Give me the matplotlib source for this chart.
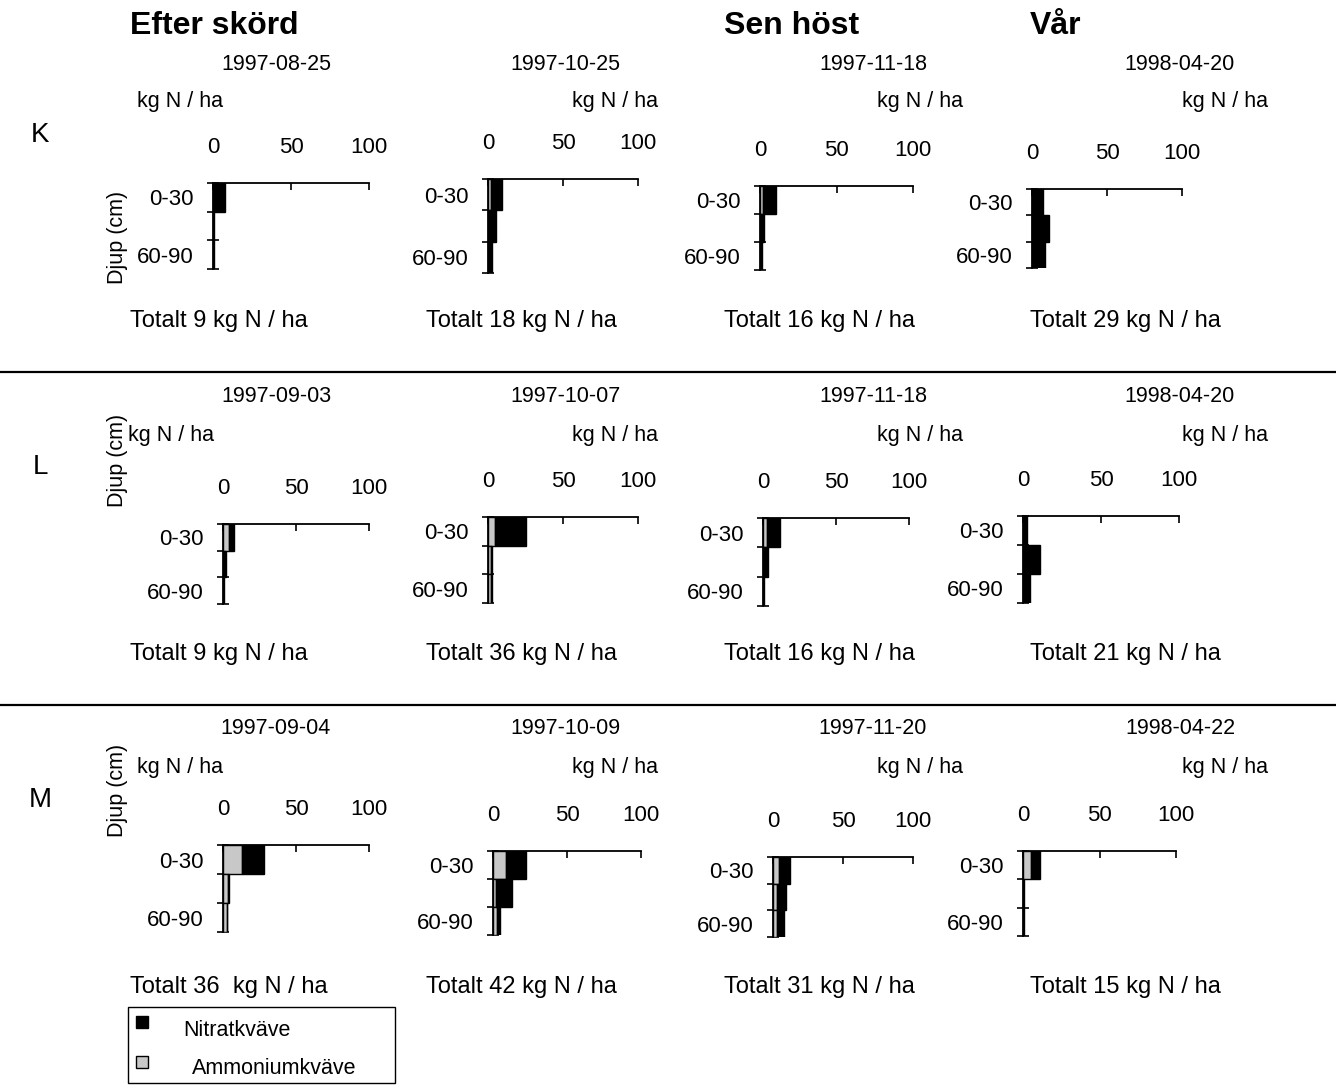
import matplotlib
matplotlib.use("Agg")
import matplotlib.pyplot as plt
from matplotlib.patches import Rectangle
from matplotlib.lines import Line2D

plt.rcParams['font.family'] = ['Liberation Sans', 'DejaVu Sans']

W, H = 1336, 1088

# ---------------- data ----------------
row_names = ["K", "L", "M"]
season_titles = ["Efter skörd", "Sen höst", "Vår"]
depth_labels = ["0-30", "60-90"]
layer_centers = [15, 45, 75]

dates_K = ["1997-08-25", "1997-10-25", "1997-11-18", "1998-04-20"]
dates_L = ["1997-09-03", "1997-10-07", "1997-11-18", "1998-04-20"]
dates_M = ["1997-09-04", "1997-10-09", "1997-11-20", "1998-04-22"]

totals_K = ["Totalt 9 kg N / ha", "Totalt 18 kg N / ha", "Totalt 16 kg N / ha", "Totalt 29 kg N / ha"]
totals_L = ["Totalt 9 kg N / ha", "Totalt 36 kg N / ha", "Totalt 16 kg N / ha", "Totalt 21 kg N / ha"]
totals_M = ["Totalt 36  kg N / ha", "Totalt 42 kg N / ha", "Totalt 31 kg N / ha", "Totalt 15 kg N / ha"]

# kg N / ha per layer (0-30, 30-60, 60-90)
ammonium_K = [[0.5, 0.2, 0.2], [2.0, 0.5, 0.5], [2.0, 0.5, 0.5], [0.5, 0.5, 0.5]]
nitrate_K = [[7.5, 0.3, 0.3], [7.0, 5.0, 2.0], [8.5, 2.0, 0.5], [6.5, 10.5, 8.0]]
ammonium_L = [[4.0, 0.3, 0.2], [4.5, 2.0, 2.2], [2.5, 0.5, 0.3], [0.3, 0.3, 0.3]]
nitrate_L = [[3.5, 1.5, 0.3], [21.0, 0.4, 0.5], [9.0, 3.0, 0.3], [2.5, 10.5, 4.0]]
ammonium_M = [[13.0, 3.5, 2.5], [9.0, 2.0, 3.0], [4.0, 2.5, 2.5], [5.0, 0.2, 0.2]]
nitrate_M = [[15.0, 0.5, 0.3], [13.0, 11.0, 1.5], [8.0, 7.0, 5.0], [6.0, 0.2, 0.2]]

x_ticks = [0, 50, 100]
legend_labels = ["Nitratkväve", "Ammoniumkväve"]

# ---------------- layout (pixel boxes: x0, x100, ytop, ybottom) ----------------
boxes = [
    [(213, 369, 183, 269), (488, 638, 179, 273), (760, 913, 186, 270), (1032, 1182, 189, 268)],
    [(223, 369, 524, 604), (488, 638, 517, 603), (763, 909, 518, 606), (1023, 1179, 516, 603)],
    [(223, 369, 845, 932), (493, 641, 851, 935), (773, 913, 857, 937), (1023, 1176, 851, 936)],
]
date_y = [65, 396, 729]
kg_y = [102, 435, 767]
kg_x = [[137, 572, 877, 1182], [128, 572, 877, 1182], [137, 572, 877, 1182]]
date_x = [276, 565, 873, 1180]
total_x = [130, 426, 724, 1030]
total_y = [321, 654, 987]
row_letter_y = [135, 467, 800]
djup_y = [237, 460, 790]

AMM_COLOR = "#c8c8c8"
SMALL = 15.5

fig = plt.figure(figsize=(W / 100, H / 100), dpi=100)

def fx(px):
    return px / W

def fy(py):
    return 1 - py / H

all_dates = [dates_K, dates_L, dates_M]
all_totals = [totals_K, totals_L, totals_M]
all_amm = [ammonium_K, ammonium_L, ammonium_M]
all_nit = [nitrate_K, nitrate_L, nitrate_M]

for r in range(3):
    for c in range(4):
        x0, x100, yt, yb = boxes[r][c]
        ax = fig.add_axes([fx(x0), fy(yb), (x100 - x0) / W, (yb - yt) / H])
        amm = all_amm[r][c]
        nit = all_nit[r][c]
        ax.barh(layer_centers, amm, height=30, color=AMM_COLOR, edgecolor="black",
                linewidth=1.0, zorder=2)
        ax.barh(layer_centers, nit, left=amm, height=30, color="black",
                edgecolor="black", linewidth=1.0, zorder=2)
        ax.set_xlim(0, 100)
        ax.set_ylim(90, 0)
        ax.patch.set_visible(False)
        for s in ["right", "bottom"]:
            ax.spines[s].set_visible(False)
        ax.spines["top"].set_linewidth(1.3)
        ax.spines["left"].set_linewidth(1.3)
        ax.spines["left"].set_zorder(3)
        ax.xaxis.tick_top()
        ax.set_xticks(x_ticks)
        ax.set_xticklabels([str(t) for t in x_ticks])
        ax.tick_params(axis="x", direction="in", length=5, width=1.2, pad=18,
                       labelsize=16)
        ax.set_yticks([0, 30, 60, 90])
        ax.set_yticklabels([])
        ax.tick_params(axis="y", which="major", direction="inout", length=8, width=1.2)
        ax.set_yticks([15, 75], minor=True)
        ax.set_yticklabels(depth_labels, minor=True)
        ax.tick_params(axis="y", which="minor", length=0, pad=14, labelsize=16)

        fig.text(fx(date_x[c]), fy(date_y[r]), all_dates[r][c], ha="center", va="center",
                 fontsize=SMALL)
        fig.text(fx(kg_x[r][c]), fy(kg_y[r]), "kg N / ha", ha="left", va="center",
                 fontsize=SMALL)
        fig.text(fx(total_x[c]), fy(total_y[r]), all_totals[r][c], ha="left", va="center",
                 fontsize=17)

    fig.text(fx(40), fy(row_letter_y[r]), row_names[r], ha="center", va="center",
             fontsize=20)
    fig.text(fx(118), fy(djup_y[r]), "Djup (cm)", ha="center", va="center",
             rotation=90, fontsize=SMALL)

# season titles
title_x = [130, 724, 1030]
for t, x in zip(season_titles, title_x):
    fig.text(fx(x), fy(26), t, ha="left", va="center", fontsize=23, fontweight="bold")

# separator lines
for yy in [372, 705]:
    fig.add_artist(Line2D([0, 1], [fy(yy), fy(yy)], transform=fig.transFigure,
                          color="black", linewidth=1.6))

# legend box
fig.add_artist(Rectangle((fx(128), fy(1083)), (395 - 128) / W, (1083 - 1007) / H,
                         transform=fig.transFigure, facecolor="white",
                         edgecolor="black", linewidth=1.0))
fig.add_artist(Rectangle((fx(136), fy(1028)), 12 / W, 12 / H, transform=fig.transFigure,
                         facecolor="black", edgecolor="black", linewidth=1.0))
fig.add_artist(Rectangle((fx(136), fy(1068)), 12 / W, 12 / H, transform=fig.transFigure,
                         facecolor=AMM_COLOR, edgecolor="black", linewidth=1.0))
fig.text(fx(183), fy(1030), legend_labels[0], ha="left", va="center", fontsize=SMALL)
fig.text(fx(192), fy(1068), legend_labels[1], ha="left", va="center", fontsize=SMALL)

fig.savefig("out.png", dpi=100)
